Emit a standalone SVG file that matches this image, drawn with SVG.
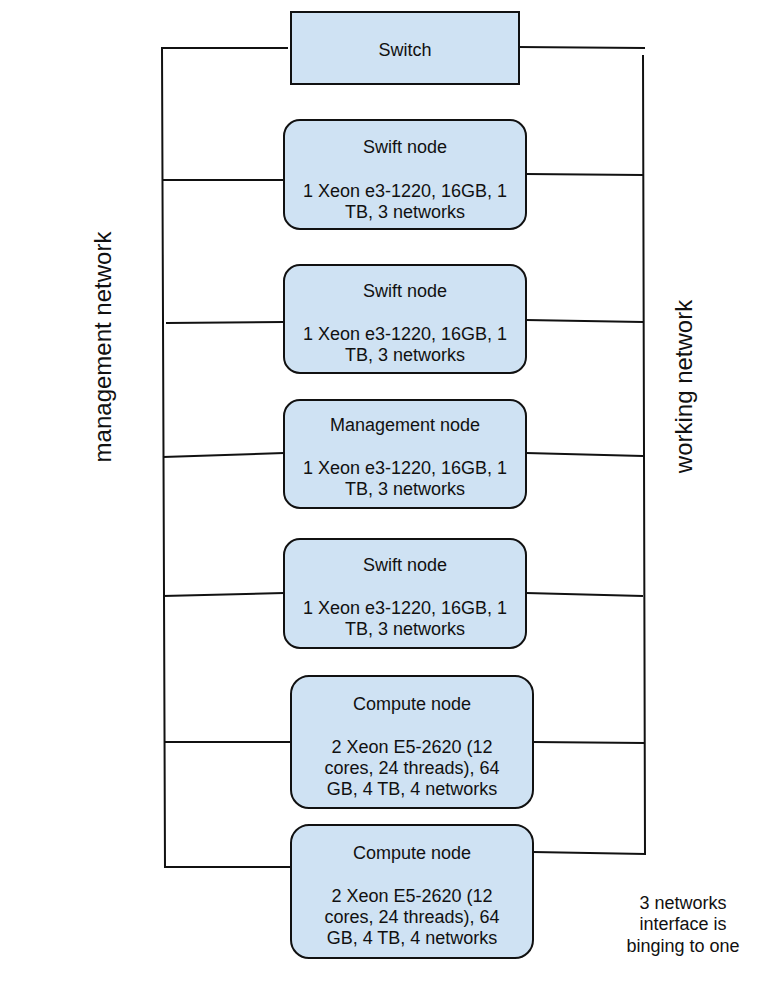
<svg xmlns="http://www.w3.org/2000/svg" width="771" height="997" viewBox="0 0 771 997">
<style>
.node{fill:#cfe2f3;stroke:#111;stroke-width:2}
.wire{fill:none;stroke:#111;stroke-width:2}
text{font-family:"Liberation Sans",Arial,sans-serif;font-size:18px;fill:#111;text-anchor:middle}
.big{font-size:24px}
</style>
<rect width="771" height="997" fill="#fff"/>
<g id="connectors">
<path class="wire" d="M288,48 L162,48 L165,867 L291,867"/>
<path class="wire" d="M517,47 L645,48"/>
<path class="wire" d="M643,55 L645,854 L533,852"/>
<path class="wire" d="M163,180 L284,180"/>
<path class="wire" d="M526,174 L643,175"/>
<path class="wire" d="M166,323 L284,322"/>
<path class="wire" d="M526,320 L643,322"/>
<path class="wire" d="M163,457 L284,453"/>
<path class="wire" d="M526,453 L643,456"/>
<path class="wire" d="M163,596 L284,593"/>
<path class="wire" d="M526,593 L643,596"/>
<path class="wire" d="M165,742 L291,742"/>
<path class="wire" d="M533,742 L645,743"/>
</g>
<g id="switch">
<rect class="node" x="291" y="12" width="228" height="72"/>
<text x="405" y="55.5">Switch</text>
</g>
<g id="swift1">
<rect class="node" x="284" y="120" width="242" height="109" rx="16"/>
<text x="405" y="153">Swift node</text>
<text x="405" y="196.5">1 Xeon e3-1220, 16GB, 1</text>
<text x="405" y="217.5">TB, 3 networks</text>
</g>
<g id="swift2">
<rect class="node" x="284" y="265" width="242" height="108" rx="16"/>
<text x="405" y="296.5">Swift node</text>
<text x="405" y="340">1 Xeon e3-1220, 16GB, 1</text>
<text x="405" y="361">TB, 3 networks</text>
</g>
<g id="management">
<rect class="node" x="284" y="400" width="242" height="108" rx="16"/>
<text x="405" y="430.5">Management node</text>
<text x="405" y="474">1 Xeon e3-1220, 16GB, 1</text>
<text x="405" y="495">TB, 3 networks</text>
</g>
<g id="swift3">
<rect class="node" x="284" y="539" width="242" height="109" rx="16"/>
<text x="405" y="571">Swift node</text>
<text x="405" y="614">1 Xeon e3-1220, 16GB, 1</text>
<text x="405" y="635">TB, 3 networks</text>
</g>
<g id="compute1">
<rect class="node" x="291" y="676" width="242" height="132" rx="18"/>
<text x="412" y="709.5">Compute node</text>
<text x="412" y="752.5">2 Xeon E5-2620 (12</text>
<text x="412" y="773.5">cores, 24 threads), 64</text>
<text x="412" y="794.5">GB, 4 TB, 4 networks</text>
</g>
<g id="compute2">
<rect class="node" x="291" y="825" width="242" height="133" rx="18"/>
<text x="412" y="858.5">Compute node</text>
<text x="412" y="901.5">2 Xeon E5-2620 (12</text>
<text x="412" y="922.5">cores, 24 threads), 64</text>
<text x="412" y="943.5">GB, 4 TB, 4 networks</text>
</g>
<g id="labels">
<text class="big" transform="translate(111,347) rotate(-90)">management network</text>
<text class="big" transform="translate(692,386.5) rotate(-90)">working network</text>
<text x="683" y="908.5">3 networks</text>
<text x="683" y="929.5">interface is</text>
<text x="683" y="951.5">binging to one</text>
</g>
</svg>
